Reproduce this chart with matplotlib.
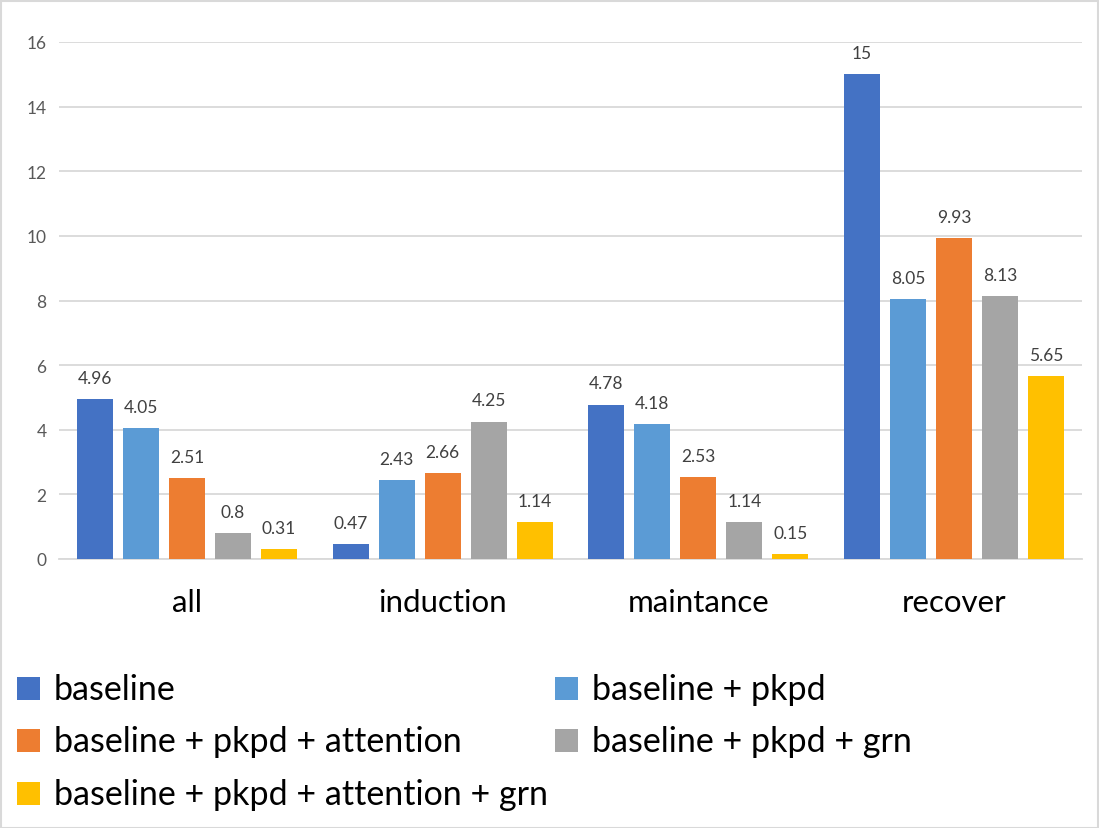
import matplotlib
matplotlib.use("Agg")
import matplotlib.pyplot as plt
from matplotlib.patches import Rectangle
import numpy as np

categories = ["all", "induction", "maintance", "recover"]
series_names = [
    "baseline",
    "baseline + pkpd",
    "baseline + pkpd + attention",
    "baseline + pkpd + grn",
    "baseline + pkpd + attention + grn",
]
baseline = [4.96, 0.47, 4.78, 15]
pkpd = [4.05, 2.43, 4.18, 8.05]
pkpd_attention = [2.51, 2.66, 2.53, 9.93]
pkpd_grn = [0.8, 4.25, 1.14, 8.13]
pkpd_attention_grn = [0.31, 1.14, 0.15, 5.65]
series_values = [baseline, pkpd, pkpd_attention, pkpd_grn, pkpd_attention_grn]
colors = ["#4472C4", "#5B9BD5", "#ED7D31", "#A5A5A5", "#FFC000"]
y_ticks = [0, 2, 4, 6, 8, 10, 12, 14, 16]

plt.rcParams['font.family'] = ['Lato', 'DejaVu Sans']

W, H = 1099, 829
fig = plt.figure(figsize=(W / 100, H / 100), dpi=100)
fig.patch.set_facecolor("white")

# axes placement in pixels
left, right, top, bottom = 59, 1082, 43, 560
ax = fig.add_axes([left / W, 1 - bottom / H, (right - left) / W, (bottom - top) / H])

x = np.arange(len(categories))
step = 46 / 255.75
width = 36 / 255.75
n = len(series_values)
for i, (vals, c) in enumerate(zip(series_values, colors)):
    pos = x + (i - (n - 1) / 2) * step
    bars = ax.bar(pos, vals, width=width, color=c, zorder=3, label=series_names[i])
    for b, v in zip(bars, vals):
        ax.annotate(f"{v:g}", (b.get_x() + b.get_width() / 2, v),
                    xytext=(0, 9.5), textcoords="offset points",
                    ha="center", va="bottom", fontsize=12.5, color="#404040")

ax.set_xlim(-0.5, len(categories) - 0.5)
ax.set_ylim(0, 16)
ax.set_yticks(y_ticks)
ax.set_yticklabels([str(t) for t in y_ticks])
ax.set_xticks(x)
ax.set_xticklabels(categories)
ax.tick_params(axis="y", length=0, pad=9, labelsize=12.5, labelcolor="#595959")
ax.tick_params(axis="x", length=0, pad=21, labelsize=22.5, labelcolor="#000000")
ax.grid(axis="y", color="#D9D9D9", linewidth=1.3, zorder=0)
for s in ["top", "right", "left"]:
    ax.spines[s].set_visible(False)
ax.spines["bottom"].set_color("#D9D9D9")
ax.spines["bottom"].set_linewidth(1.3)
ax.set_axisbelow(True)

# legend (manual, Excel style row-major two columns)
col_x = [17, 555]
row_y = [689, 741, 794]
sq = 23
for i, (name, c) in enumerate(zip(series_names, colors)):
    r, col = divmod(i, 2)
    cx, cy = col_x[col], row_y[r]
    fig.add_artist(Rectangle((cx / W, 1 - (cy + sq / 2) / H), sq / W, sq / H,
                             transform=fig.transFigure, facecolor=c, edgecolor="none"))
    fig.text((cx + 37) / W, 1 - (cy + 1) / H, name, ha="left", va="center",
             fontsize=24.5, color="#000000")

# outer border
fig.add_artist(Rectangle((0.5 / W, 0.5 / H), (W - 2) / W, (H - 2) / H,
                         transform=fig.transFigure, facecolor="none",
                         edgecolor="#D9D9D9", linewidth=1.5))

fig.savefig("out.png", dpi=100)
